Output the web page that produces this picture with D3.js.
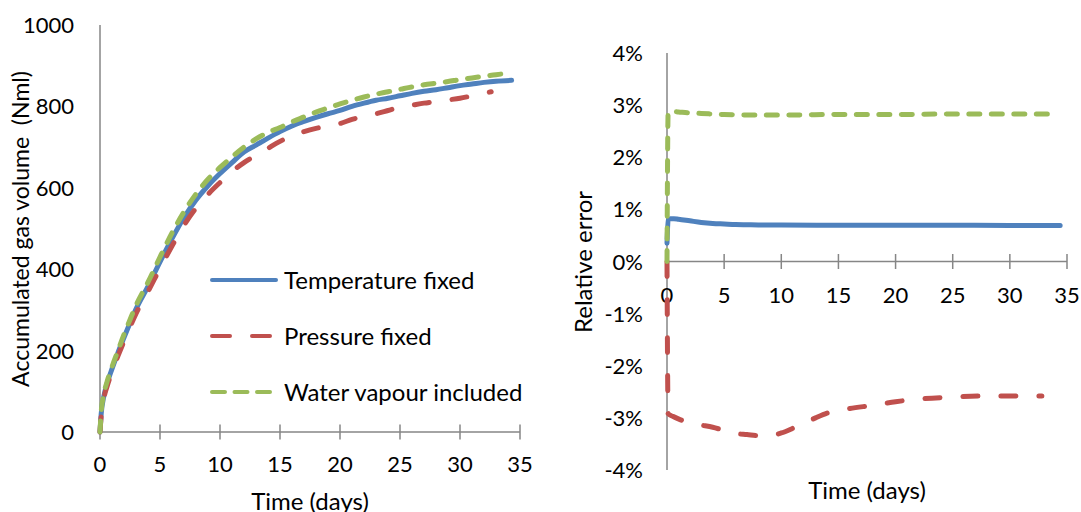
<!DOCTYPE html>
<html><head><meta charset="utf-8">
<script src="https://cdn.jsdelivr.net/npm/d3@7"></script>
<style>
html,body{margin:0;padding:0;background:#fff;}
svg{display:block;font-family:Lato,"Open Sans",sans-serif;}
text{fill:#000;}
</style></head><body>
<svg id="c" width="1081" height="512"></svg>
<script>
// ---- Left chart: accumulated gas volume ----
const days = [0,0.1,0.3,0.6,1,1.5,2,2.5,3,4,5,6,7,8,9,10,11,12,13,14,15,16,17,18,19,20,21,22,23,24,25,26,27,28,29,30,31,32,33,34.3];
const tempFixed = [0,45,85,120,155,195,232,268,302,358,418,475,527,570,605,635,662,688,705,722,738,752,763,773,782,790,800,808,815,820,826,832,837,841,846,851,855,859,862,864];
const waterIncl = [0,50,90,125,160,200,240,276,311,368,430,489,541,585,621,650,676,700,720,736,748,762,774,786,796,806,815,823,830,836,842,848,853,857,861,866,870,874,878,882];
const daysP = [0,0.1,0.3,0.6,1,1.5,2,2.5,3,4,5,6,7,8,9,10,11,12,13,14,15,16,17,18,19,20,21,22,23,24,25,26,27,28,29,30,31,32,32.6];
const pressFixed = [0,40,80,113,148,187,223,258,291,345,402,457,508,550,584,613,640,662,680,697,714,728,738,746,752,758,768,776,782,790,798,803,808,812,816,820,826,832,836];
const leftXTicks = [0,5,10,15,20,25,30,35];
const leftYTicks = [0,200,400,600,800,1000];

// ---- Right chart: relative error (%) ----
const errDaysT = [0,0.1,0.3,0.6,1,2,3,4,5,6,7,8,10,15,20,25,30,34.4];
const errTemp = [0.35,0.80,0.82,0.82,0.81,0.78,0.75,0.73,0.72,0.71,0.705,0.70,0.70,0.695,0.695,0.695,0.69,0.69];
const errDaysW = [0,0.1,0.5,1,2,3,5,7,10,15,20,25,30,34.2];
const errWater = [0,2.86,2.88,2.87,2.85,2.84,2.82,2.81,2.81,2.82,2.82,2.83,2.83,2.83];
const errDaysP = [0,0.1,0.5,1,2,3,4,5,6,7,8,9,10,11,12,13,14,16,18,20,22,25,28,32.8];
const errPress = [0,-2.92,-2.97,-3.02,-3.10,-3.14,-3.18,-3.24,-3.30,-3.32,-3.34,-3.34,-3.29,-3.20,-3.10,-3.00,-2.91,-2.82,-2.76,-2.69,-2.64,-2.60,-2.58,-2.58];
const rightXTicks = [0,5,10,15,20,25,30,35];
const rightYTicks = [4,3,2,1,0,-1,-2,-3,-4];

const seriesNames = ["Temperature fixed","Pressure fixed","Water vapour included"];

const C = {blue:"#4F81BD", red:"#C0504D", green:"#9BBB59", axis:"#868686"};
const styles = {
  "Temperature fixed": {color:C.blue, dash:null, legDash:null},
  "Pressure fixed": {color:C.red, dash:"15,23", legDash:"18,22"},
  "Water vapour included": {color:C.green, dash:"11,11.5", legDash:"13,9.5"}
};
const FS = 24, FT = 22;
const svg = d3.select("#c");

function drawLine(g, xs, ys, x, y, name){
  const st = styles[name];
  const pts = xs.map((d,i)=>[d, ys[i]]);
  const p = g.append("path")
    .datum(pts)
    .attr("fill","none")
    .attr("stroke", st.color)
    .attr("stroke-width", 5)
    .attr("stroke-linecap","round")
    .attr("stroke-linejoin","round")
    .attr("d", d3.line().x(d=>x(d[0])).y(d=>y(d[1])).curve(d3.curveMonotoneX));
  if (st.dash) p.attr("stroke-dasharray", st.dash);
}

function xAxis(g, x, y0, ticks, labelY){
  g.append("line").attr("x1",x(0)).attr("x2",x(35)).attr("y1",y0).attr("y2",y0)
    .attr("stroke",C.axis).attr("stroke-width",1.5);
  ticks.forEach(t=>{
    g.append("line").attr("x1",x(t)).attr("x2",x(t)).attr("y1",y0-7.5).attr("y2",y0+7.5)
      .attr("stroke",C.axis).attr("stroke-width",1.5);
    g.append("text").attr("x",x(t)).attr("y",labelY).attr("text-anchor","middle")
      .attr("font-size",FT).text(t);
  });
}

// ---------- Left ----------
const xL = d3.scaleLinear().domain([0,35]).range([100,520]);
const yL = d3.scaleLinear().domain([0,1000]).range([432,25]);
const gL = svg.append("g");
gL.append("line").attr("x1",xL(0)).attr("x2",xL(0)).attr("y1",yL(0)).attr("y2",yL(1000))
  .attr("stroke",C.axis).attr("stroke-width",1.5);
leftYTicks.forEach(t=>{
  gL.append("text").attr("x",74).attr("y",yL(t)+8).attr("text-anchor","end")
    .attr("font-size",FT).text(t);
});
xAxis(gL, xL, yL(0), leftXTicks, 472);
gL.append("text").attr("transform","translate(29,229) rotate(-90)")
  .attr("text-anchor","middle").attr("font-size",23).style("white-space","pre")
  .text("Accumulated gas volume  (Nml)");
gL.append("text").attr("x",310).attr("y",510).attr("text-anchor","middle")
  .attr("font-size",FS).text("Time (days)");

drawLine(gL, days, tempFixed, xL, yL, "Temperature fixed");
drawLine(gL, daysP, pressFixed, xL, yL, "Pressure fixed");
drawLine(gL, days, waterIncl, xL, yL, "Water vapour included");

// legend
const legY = [280,336,392];
seriesNames.forEach((n,i)=>{
  const st = styles[n];
  const l = gL.append("line").attr("x1",212).attr("x2",276).attr("y1",legY[i]).attr("y2",legY[i])
    .attr("stroke",st.color).attr("stroke-width",4).attr("stroke-linecap","round");
  if (st.legDash) l.attr("stroke-dasharray",st.legDash);
  gL.append("text").attr("x",284).attr("y",legY[i]+8.5).attr("font-size",FS).text(n);
});

// ---------- Right ----------
const xR = d3.scaleLinear().domain([0,35]).range([667,1067]);
const yR = d3.scaleLinear().domain([-4,4]).range([470,53]);
const gR = svg.append("g");
gR.append("line").attr("x1",xR(0)).attr("x2",xR(0)).attr("y1",yR(-4)).attr("y2",yR(4))
  .attr("stroke",C.axis).attr("stroke-width",1.5);
rightYTicks.forEach(t=>{
  gR.append("text").attr("x",643).attr("y",yR(t)+8).attr("text-anchor","end")
    .attr("font-size",FT).text(t+"%");
});
xAxis(gR, xR, yR(0), rightXTicks, 303);
gR.append("text").attr("transform","translate(592,262) rotate(-90)")
  .attr("text-anchor","middle").attr("font-size",FS).text("Relative error");
gR.append("text").attr("x",867).attr("y",499).attr("text-anchor","middle")
  .attr("font-size",FS).text("Time (days)");

drawLine(gR, errDaysT, errTemp, xR, yR, "Temperature fixed");
drawLine(gR, errDaysP, errPress, xR, yR, "Pressure fixed");
drawLine(gR, errDaysW, errWater, xR, yR, "Water vapour included");
</script>
</body></html>
